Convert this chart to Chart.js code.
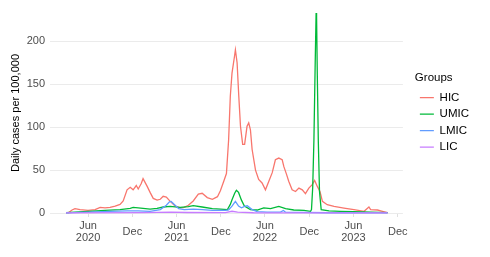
<!DOCTYPE html>
<html>
<head>
<meta charset="utf-8">
<script src="https://cdn.jsdelivr.net/npm/chart.js@4.4.1/dist/chart.umd.min.js"></script>
<style>
  html, body { margin: 0; padding: 0; background: #fff; }
  #wrap { width: 490px; height: 257px; }
</style>
</head>
<body>
<div id="wrap"><canvas id="chart" width="490" height="257"></canvas></div>
<script>
// ---- data ----
const groups = ['HIC', 'UMIC', 'LMIC', 'LIC'];
const colors = ['#F8766D', '#00BA38', '#619CFF', '#C77CFF'];

const hicDates = ['2020-03-10','2020-03-20','2020-03-27','2020-04-08','2020-04-29','2020-06-01','2020-06-30','2020-07-21','2020-08-10','2020-08-31',
  '2020-09-21','2020-10-11','2020-10-24','2020-11-09','2020-11-22','2020-12-04','2020-12-17','2020-12-25','2021-01-06','2021-01-14',
  '2021-01-31','2021-02-12','2021-02-25','2021-03-13','2021-03-26','2021-04-07','2021-04-20','2021-05-06','2021-05-27','2021-06-16',
  '2021-07-03','2021-07-20','2021-08-09','2021-08-30','2021-09-15','2021-10-06','2021-10-27','2021-11-17','2021-11-29','2021-12-13',
  '2021-12-24','2022-01-02','2022-01-09','2022-01-16','2022-01-26','2022-01-30','2022-02-06','2022-02-13','2022-02-20','2022-03-01',
  '2022-03-09','2022-03-19','2022-03-26','2022-04-02','2022-04-09','2022-04-23','2022-05-06','2022-05-20','2022-06-03','2022-06-17',
  '2022-07-01','2022-07-14','2022-07-28','2022-08-11','2022-08-18','2022-08-29','2022-09-07','2022-09-21','2022-10-05','2022-10-19',
  '2022-11-02','2022-11-15','2022-11-29','2022-12-13','2022-12-23','2023-01-03','2023-01-14','2023-01-24','2023-02-13','2023-03-13',
  '2023-04-23','2023-06-03','2023-07-15','2023-08-04','2023-08-11','2023-09-08','2023-09-29','2023-10-20'];
const hicValues = [0, 2, 3.5, 5, 4, 3, 4, 6.5, 6, 6.5,
  8, 10, 14, 27, 30, 27, 32, 28, 34, 40,
  31, 24, 17, 15, 16, 19.5, 18.5, 13.5, 8, 6,
  6.5, 9, 14, 22, 23, 18, 16, 19, 26, 37,
  46, 85, 136, 163, 182, 190, 175, 136, 101, 80,
  80, 101, 105, 97, 74, 50, 39, 35, 27, 37,
  47, 62, 64, 62, 54, 45, 37, 27, 25, 29,
  27, 22.5, 29, 33, 38, 31, 25, 13.5, 9.7, 7.7,
  5.8, 3.9, 2, 7, 4, 3.5, 2, 0.5];

const umicDates = ['2020-03-02','2020-04-08','2020-06-01','2020-08-10','2020-10-11','2020-11-22','2020-12-04','2020-12-25','2021-01-14','2021-02-12',
  '2021-03-13','2021-04-07','2021-05-06','2021-06-16','2021-07-20','2021-08-09','2021-09-15','2021-10-27','2021-11-29','2021-12-28',
  '2022-01-09','2022-01-16','2022-01-27','2022-02-03','2022-02-12','2022-02-24','2022-03-08','2022-04-02','2022-04-30','2022-05-27',
  '2022-06-24','2022-07-28','2022-08-25','2022-09-28','2022-11-09','2022-12-06','2022-12-10','2022-12-15','2022-12-20','2022-12-25',
  '2022-12-29','2022-12-31','2023-01-03','2023-01-07','2023-01-12','2023-01-19','2023-02-20','2023-04-09','2023-06-03','2023-08-11',
  '2023-10-20'];
const umicValues = [0.3, 1, 2, 3, 4, 5.5, 6.5, 6, 5.5, 4.5,
  5.5, 7, 7.7, 6.5, 7.5, 8.5, 7, 5, 4.5, 4,
  10, 15.5, 23, 26.5, 24, 15, 8, 4, 3.5, 6,
  5, 7.7, 5, 3.5, 3, 2, 4, 30, 85, 170,
  233, 228, 160, 85, 25, 4, 2.5, 2, 1.5, 1,
  0.5];

const lmicDates = ['2020-03-02','2020-06-01','2020-08-31','2020-11-09','2020-12-25','2021-02-12','2021-03-26','2021-04-20','2021-05-03','2021-05-10',
  '2021-05-23','2021-06-10','2021-07-03','2021-08-09','2021-09-15','2021-10-27','2021-12-20','2022-01-02','2022-01-16','2022-01-30',
  '2022-02-12','2022-02-24','2022-03-12','2022-03-20','2022-04-09','2022-04-30','2022-06-10','2022-08-04','2022-08-16','2022-08-25',
  '2022-11-02','2023-02-20','2023-10-20'];
const lmicValues = [0.2, 1, 2, 2.5, 2.5, 2, 4, 9, 13, 13.5,
  10, 5, 4, 4.5, 4, 3, 3, 3.5, 8, 13.5,
  8, 6, 8, 8.5, 4, 1.5, 1, 1, 3, 1,
  0.7, 0.3, 0.2];

const licDates = ['2020-03-02','2021-01-15','2021-05-10','2021-07-15','2021-12-20','2022-01-16','2022-02-08','2022-04-15','2023-10-20'];
const licValues = [0.1, 0.5, 1, 0.6, 0.5, 2, 1, 0.3, 0.1];

// x axis: days since 2020-01-01
const tickDates = ['2020-06-01','2020-12-01','2021-06-01','2021-12-01','2022-06-01','2022-12-01','2023-06-01','2023-12-01'];
const tickLabels = [['Jun','2020'], 'Dec', ['Jun','2021'], 'Dec', ['Jun','2022'], 'Dec', ['Jun','2023'], 'Dec'];
const yTicks = [0, 50, 100, 150, 200];

function dayNum(s) {
  const p = s.split('-').map(Number);
  return (Date.UTC(p[0], p[1] - 1, p[2]) - Date.UTC(2020, 0, 1)) / 86400000;
}
function toPoints(dates, values) {
  return dates.map((d, i) => ({ x: dayNum(d), y: values[i] }));
}

const seriesDates = [hicDates, umicDates, lmicDates, licDates];
const seriesValues = [hicValues, umicValues, lmicValues, licValues];
const tickDays = tickDates.map(dayNum);

const datasets = groups.map((g, i) => ({
  label: g,
  data: toPoints(seriesDates[i], seriesValues[i]),
  borderColor: colors[i],
  backgroundColor: colors[i],
  borderWidth: 1.3,
  pointRadius: 0,
  pointStyle: 'line',
  tension: 0,
  clip: 3
}));
// LIC drawn last (on top) like the reference
datasets.reverse();

const font = { family: 'Liberation Sans, Arial, sans-serif', size: 11 };
const xFont = { family: 'Liberation Sans, Arial, sans-serif', size: 11, lineHeight: 1.1 };
const legendFont = { family: 'Liberation Sans, Arial, sans-serif', size: 11.5 };

new Chart(document.getElementById('chart'), {
  type: 'line',
  data: { datasets: datasets },
  options: {
    responsive: false,
    animation: false,
    events: [],
    layout: { padding: { left: 9, right: 11, top: 13, bottom: 0 } },
    plugins: {
      tooltip: { enabled: false },
      legend: {
        position: 'right',
        align: 'start',
        reverse: true,
        labels: {
          usePointStyle: true,
          pointStyleWidth: 14,
          boxHeight: 6,
          padding: 5,
          color: '#000',
          font: legendFont
        },
        title: { display: true, text: 'Groups', position: 'start', color: '#000', font: legendFont, padding: { top: 59, bottom: 1 } }
      }
    },
    scales: {
      x: {
        type: 'linear',
        min: -5,
        max: 1451,
        afterFit: (s) => { s.height = 44; },
        afterBuildTicks: (s) => { s.ticks = tickDays.map(v => ({ value: v })); },
        ticks: {
          autoSkip: false,
          maxRotation: 0,
          padding: 9,
          crossAlign: 'center',
          color: '#4D4D4D',
          font: xFont,
          callback: (v) => tickLabels[tickDays.indexOf(v)]
        },
        grid: { drawOnChartArea: false, drawTicks: true, tickLength: 4, color: '#E0E0E0' },
        border: { display: false }
      },
      y: {
        min: 0,
        max: 233,
        afterFit: (s) => { s.width = 41; },
        afterBuildTicks: (s) => { s.ticks = yTicks.map(v => ({ value: v })); },
        ticks: { color: '#4D4D4D', font: font, padding: 5 },
        grid: { color: '#EBEBEB', lineWidth: 1, drawTicks: false },
        border: { display: false },
        title: { display: true, text: 'Daily cases per 100,000', color: '#000', font: font, padding: { top: 0, bottom: 4 } }
      },
      // empty spacer between the plot and the legend
      gap: {
        type: 'linear',
        position: 'right',
        afterFit: (s) => { s.width = 12; },
        ticks: { display: false },
        grid: { display: false },
        border: { display: false }
      }
    }
  }
});
</script>
</body>
</html>
